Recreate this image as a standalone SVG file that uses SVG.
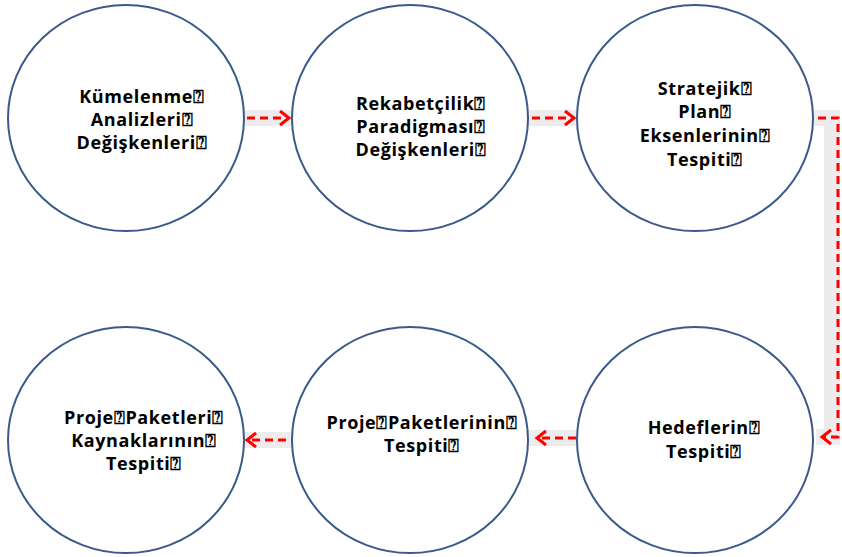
<svg xmlns="http://www.w3.org/2000/svg" width="842" height="557" viewBox="0 0 842 557">
  <style>
    .node ellipse { fill: #ffffff; stroke: #3a5a8c; stroke-width: 2; }
    .node text { font-family: "Open Sans", Lato, "Liberation Sans", sans-serif; font-weight: bold; font-size: 18px; letter-spacing: 0.6px; fill: #000; text-anchor: middle; }
    .band { fill: none; stroke: #ececec; stroke-width: 16; }
    .link { fill: none; stroke: #ff0000; stroke-width: 3; stroke-dasharray: 8 5; }
    .head { fill: none; stroke: #ff0000; stroke-width: 3; }
  </style>
  <rect width="842" height="557" fill="#ffffff"/>

  <g id="connectors">
    <!-- light shadow bands under the arrows -->
    <path class="band" d="M241 118 H296"/>
    <path class="band" d="M525 118 H580"/>
    <path class="band" d="M812 118 H832 V437 H816"/>
    <path class="band" d="M240 440 H296"/>
    <path class="band" d="M524 438 H580"/>
    <!-- dashed arrows -->
    <path class="link" d="M247 118 H288"/>
    <path class="head" d="M280 111 L289 118 L280 125"/>
    <path class="link" d="M532 118 H573"/>
    <path class="head" d="M565 111 L574 118 L565 125"/>
    <path class="link" d="M818 118 H838 V437 H824"/>
    <path class="head" d="M831 430 L822 437 L831 444"/>
    <path class="link" d="M286 440 H248"/>
    <path class="head" d="M256 433 L247 440 L256 447"/>
    <path class="link" d="M576 438 H538"/>
    <path class="head" d="M546 431 L537 438 L546 445"/>
  </g>

  <g id="node-kumelenme" class="node">
    <ellipse cx="126" cy="118" rx="118" ry="113"/>
    <text x="142" y="103">Kümelenme⍰</text>
    <text x="142" y="126">Analizleri⍰</text>
    <text x="142" y="149">Değişkenleri⍰</text>
  </g>
  <g id="node-rekabetcilik" class="node">
    <ellipse cx="410" cy="118" rx="118" ry="113"/>
    <text x="421" y="110">Rekabetçilik⍰</text>
    <text x="421" y="133">Paradigması⍰</text>
    <text x="421" y="156">Değişkenleri⍰</text>
  </g>
  <g id="node-stratejik" class="node">
    <ellipse cx="695" cy="118" rx="118" ry="113"/>
    <text x="705" y="95">Stratejik⍰</text>
    <text x="705" y="118">Plan⍰</text>
    <text x="705" y="142">Eksenlerinin⍰</text>
    <text x="705" y="166">Tespiti⍰</text>
  </g>
  <g id="node-hedefler" class="node">
    <ellipse cx="695" cy="440" rx="118" ry="113"/>
    <text x="704" y="434">Hedeflerin⍰</text>
    <text x="704" y="458">Tespiti⍰</text>
  </g>
  <g id="node-paketler" class="node">
    <ellipse cx="410" cy="440" rx="118" ry="113"/>
    <text x="422" y="429">Proje⍰Paketlerinin⍰</text>
    <text x="422" y="452">Tespiti⍰</text>
  </g>
  <g id="node-kaynaklar" class="node">
    <ellipse cx="126" cy="440" rx="118" ry="113"/>
    <text x="144" y="424">Proje⍰Paketleri⍰</text>
    <text x="144" y="447">Kaynaklarının⍰</text>
    <text x="144" y="470">Tespiti⍰</text>
  </g>
</svg>
